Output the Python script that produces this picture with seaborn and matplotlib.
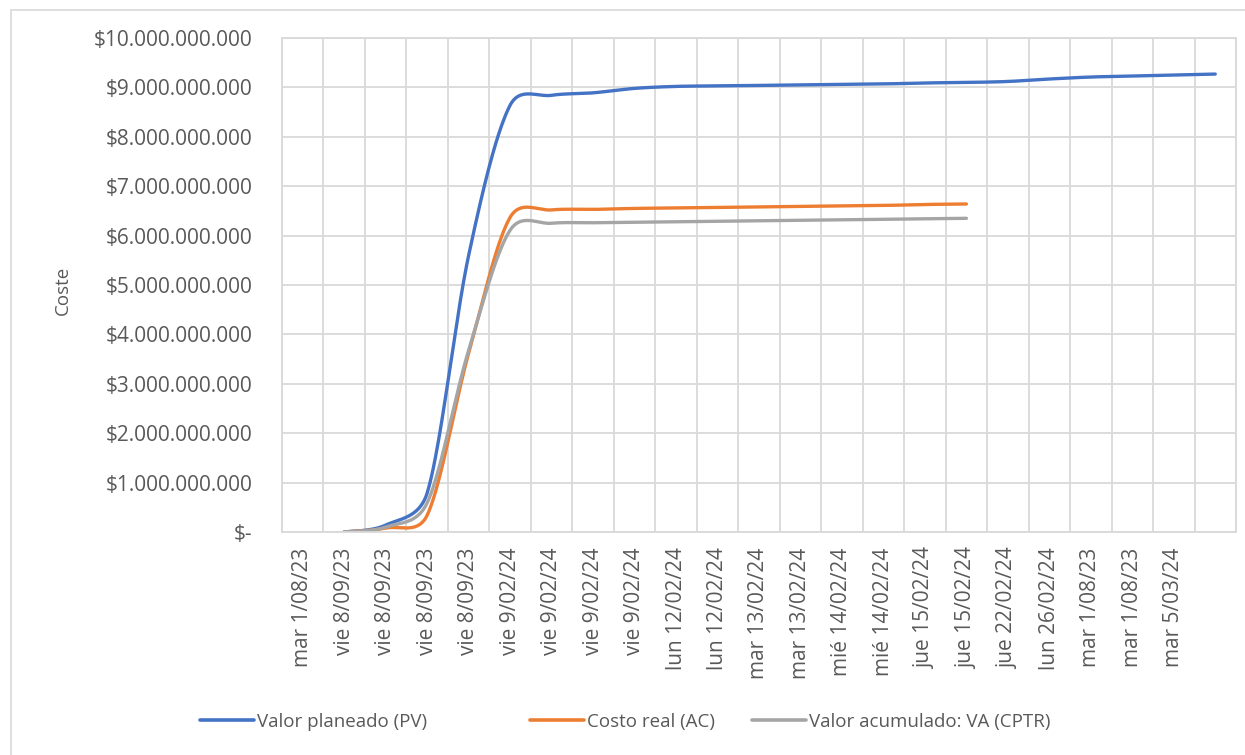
import numpy as np
import pandas as pd
import matplotlib
matplotlib.use("Agg")
import matplotlib.pyplot as plt
from matplotlib.ticker import FuncFormatter, FixedLocator
from matplotlib.lines import Line2D
import seaborn as sns

# ---------------- data (values in billions of $) ----------------
labels = ["mar 1/08/23", "vie 8/09/23", "vie 8/09/23", "vie 8/09/23", "vie 8/09/23",
          "vie 9/02/24", "vie 9/02/24", "vie 9/02/24", "vie 9/02/24",
          "lun 12/02/24", "lun 12/02/24", "mar 13/02/24", "mar 13/02/24",
          "mié 14/02/24", "mié 14/02/24", "jue 15/02/24", "jue 15/02/24",
          "jue 22/02/24", "lun 26/02/24", "mar 1/08/23", "mar 1/08/23",
          "mar 5/03/24", ""]
nan = np.nan
pv = [nan, 0.0, 0.14, 0.79, 5.6, 8.64, 8.84, 8.89, 8.98, 9.02, 9.03, 9.04, 9.05,
      9.06, 9.07, 9.09, 9.10, 9.12, 9.17, 9.21, 9.23, 9.25, 9.27]
ac = [nan, 0.0, 0.08, 0.34, 3.62, 6.37, 6.52, 6.53, 6.55, 6.56, 6.57, 6.58, 6.59,
      6.60, 6.61, 6.63, 6.64, nan, nan, nan, nan, nan, nan]
ev = [nan, 0.0, 0.10, 0.59, 3.68, 6.11, 6.25, 6.26, 6.27, 6.28, 6.29, 6.30, 6.31,
      6.32, 6.33, 6.34, 6.35, nan, nan, nan, nan, nan, nan]
series_names = ["Valor planeado (PV)", "Costo real (AC)", "Valor acumulado: VA (CPTR)"]
colors = ["#4472C4", "#ED7D31", "#A5A5A5"]

SX, SY = 41.45, 49.4  # pixel scale (per category, per billion) used by the smoothing


def smooth(vals, n=40):
    """Excel-style 'smoothed line' rendering: Bezier segments through the data points,
    control arms = (P[i+1]-P[i-1])/6, limited to half of the segment length."""
    v = np.asarray(vals, dtype=float)
    idx = np.where(~np.isnan(v))[0]
    P = np.column_stack([idx * SX, v[idx] * SY])
    k = len(P)
    out = []
    for i in range(k - 1):
        p0 = P[i - 1] if i > 0 else P[i]
        p1, p2 = P[i], P[i + 1]
        p3 = P[i + 2] if i + 2 < k else P[i + 1]
        d12 = np.linalg.norm(p2 - p1)
        d02 = np.linalg.norm(p2 - p0)
        d13 = np.linalg.norm(p3 - p1)
        f1 = 1 / 6 if d02 / 6 < d12 / 2 else (d12 / (2 * d02) if d02 > 0 else 0)
        f2 = 1 / 6 if d13 / 6 < d12 / 2 else (d12 / (2 * d13) if d13 > 0 else 0)
        c1 = p1 + (p2 - p0) * f1
        c2 = p2 - (p3 - p1) * f2
        t = np.linspace(0, 1, n, endpoint=(i == k - 2))[:, None]
        b = ((1 - t) ** 3) * p1 + 3 * ((1 - t) ** 2) * t * c1 + 3 * (1 - t) * t**2 * c2 + t**3 * p2
        out.append(b)
    c = np.vstack(out)
    return c[:, 0] / SX, c[:, 1] / SY


frames = []
for name, vals in zip(series_names, [pv, ac, ev]):
    x, y = smooth(vals)
    frames.append(pd.DataFrame({"x": x, "y": y * 1e9, "serie": name}))
df = pd.concat(frames, ignore_index=True)

# ---------------- style ----------------
sns.set_theme(style="white")
plt.rcParams["font.family"] = ["Open Sans", "DejaVu Sans"]
txt = "#595959"
grid_c = "#D9D9D9"
fs_tick = 15
fs_leg = 13.5

fig = plt.figure(figsize=(12.45, 7.55), dpi=100)
ax = fig.add_axes([282 / 1245, 1 - 532 / 755, (1236 - 282) / 1245, (532 - 38) / 755])

sns.lineplot(data=df, x="x", y="y", hue="serie", palette=colors, hue_order=series_names,
             linewidth=2.4, ax=ax, legend=False, sort=False, estimator=None)

n = len(labels)
ax.set_xlim(-0.5, n - 0.5)
ax.set_ylim(0, 10e9)
ax.xaxis.set_major_locator(FixedLocator(np.arange(n)))
ax.set_xticklabels(labels, rotation=90, color=txt, fontsize=fs_tick)
ax.xaxis.set_minor_locator(FixedLocator(np.arange(n + 1) - 0.5))
ax.set_yticks(np.arange(0, 11) * 1e9)


def fmt(v, pos):
    if v == 0:
        return "$-"
    return "$" + f"{int(round(v)):,}".replace(",", ".")


ax.yaxis.set_major_formatter(FuncFormatter(fmt))
ax.tick_params(axis="y", labelsize=fs_tick, colors=txt, pad=21, length=0)
ax.tick_params(axis="x", which="both", pad=11, length=0)
ax.grid(False)
ax.grid(axis="y", which="major", color=grid_c, linewidth=1.3)
ax.grid(axis="x", which="minor", color=grid_c, linewidth=1.3)
for s in ax.spines.values():
    s.set_color(grid_c)
    s.set_linewidth(1.3)

ax.set_xlabel("")
ax.set_ylabel("Coste", color=txt, fontsize=fs_leg)
ax.yaxis.set_label_coords((72 - 282) / 954, (532 - 290) / 494)

# legend: one entry per slot, placed like the original
leg_x = [200, 530, 752]
for name, c, lx in zip(series_names, colors, leg_x):
    fig.legend([Line2D([0], [0], color=c, linewidth=2.6)], [name], loc="center left",
               bbox_to_anchor=(lx / 1245, 1 - 722 / 755), frameon=False, fontsize=fs_leg,
               labelcolor=txt, handlelength=2.9, handletextpad=0.15,
               borderpad=0, borderaxespad=0)

# outer chart border (top and left edges visible)
fig.add_artist(Line2D([11 / 1245, 1], [1 - 10 / 755, 1 - 10 / 755], color=grid_c,
                      linewidth=1.2, transform=fig.transFigure))
fig.add_artist(Line2D([11 / 1245, 11 / 1245], [0, 1 - 10 / 755], color=grid_c,
                      linewidth=1.2, transform=fig.transFigure))

fig.savefig("out.png", dpi=100, facecolor="white")
